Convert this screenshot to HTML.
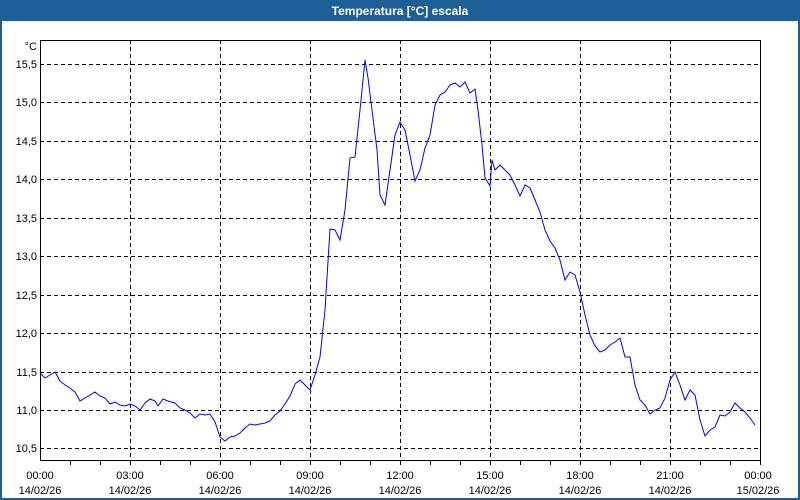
<!DOCTYPE html>
<html><head><meta charset="utf-8"><style>
html,body{margin:0;padding:0;background:#fff;}
svg{display:block;font-family:"Liberation Sans","DejaVu Sans",sans-serif;}
</style></head><body>
<svg width="800" height="500" viewBox="0 0 800 500" xmlns="http://www.w3.org/2000/svg">
<rect x="0" y="0" width="800" height="500" fill="#1e5f96"/>
<rect x="2" y="21" width="796" height="477" fill="#ffffff"/>
<text x="400" y="15" text-anchor="middle" fill="#fff" font-size="12" font-weight="bold">Temperatura [°C] escala</text>
<g stroke="#000" stroke-width="1" stroke-dasharray="4,3" fill="none">
<path d="M40 64.5H760M40 102.5H760M40 141.5H760M40 179.5H760M40 218.5H760M40 256.5H760M40 295.5H760M40 333.5H760M40 372.5H760M40 410.5H760M40 448.5H760"/>
<path d="M130.5 40V460M220.5 40V460M310.5 40V460M400.5 40V460M490.5 40V460M580.5 40V460M670.5 40V460"/>
</g>
<rect x="40.5" y="40.5" width="720" height="420" fill="none" stroke="#000"/>
<g stroke="#000"><path d="M70.5 460V465M100.5 460V465M130.5 460V465M160.5 460V465M190.5 460V465M220.5 460V465M250.5 460V465M280.5 460V465M310.5 460V465M340.5 460V465M370.5 460V465M400.5 460V465M430.5 460V465M460.5 460V465M490.5 460V465M520.5 460V465M550.5 460V465M580.5 460V465M610.5 460V465M640.5 460V465M670.5 460V465M700.5 460V465M730.5 460V465M760.5 460V465"/></g>
<g font-size="11" fill="#000" text-anchor="end">
<text x="37" y="50">°C</text>
<text x="37" y="68">15,5</text><text x="37" y="106">15,0</text><text x="37" y="145">14,5</text>
<text x="37" y="183">14,0</text><text x="37" y="222">13,5</text><text x="37" y="260">13,0</text>
<text x="37" y="299">12,5</text><text x="37" y="337">12,0</text><text x="37" y="376">11,5</text>
<text x="37" y="414">11,0</text><text x="37" y="452">10,5</text>
</g>
<g font-size="11" fill="#000" text-anchor="middle">
<text x="40" y="479">00:00</text><text x="40" y="494">14/02/26</text>
<text x="130" y="479">03:00</text><text x="130" y="494">14/02/26</text>
<text x="220" y="479">06:00</text><text x="220" y="494">14/02/26</text>
<text x="310" y="479">09:00</text><text x="310" y="494">14/02/26</text>
<text x="400" y="479">12:00</text><text x="400" y="494">14/02/26</text>
<text x="490" y="479">15:00</text><text x="490" y="494">14/02/26</text>
<text x="580" y="479">18:00</text><text x="580" y="494">14/02/26</text>
<text x="670" y="479">21:00</text><text x="670" y="494">14/02/26</text>
<text x="758" y="479">00:00</text><text x="758" y="494">15/02/26</text>
</g>
<polyline fill="none" stroke="#0000ff" stroke-width="1" points="40,373 45,378 50,375 55,372 60,381 65,385 70,388 75,392 80,401 85,398 90,395 95,392 100,396 105,398 110,404 115,402 120,405 125,406 130,404 135,406 140,410 145,403 150,399 155,401 158,406 163,399 168,401 175,403 180,408 185,410 190,413 195,418 200,414 205,415 210,414 215,422 220,437 225,441 230,437 235,436 240,433 245,428 250,424 255,425 260,424 265,423 270,421 275,415 280,411 285,404 290,396 295,384 300,380 305,385 310,390 315,375 320,357 325,310 330,229 335,230 340,240 345,210 350,158 355,157 360,110 365,60 368,78 372,110 377,150 380,195 385,205 390,170 395,135 400,122 405,130 410,155 415,181 420,170 425,148 430,135 435,105 440,95 445,92 450,85 455,83 460,87 465,82 470,93 475,89 478,110 482,145 485,178 490,186 492,160 495,170 500,165 505,170 510,175 515,185 520,196 525,185 530,188 535,200 540,212 545,230 550,241 555,248 560,260 565,280 570,272 575,275 580,292 585,315 590,335 595,346 600,352 605,350 610,345 615,342 620,338 625,357 630,357 635,385 640,400 645,405 650,414 655,410 660,408 665,398 670,380 675,372 680,385 685,400 690,390 695,395 700,420 705,436 710,430 715,427 720,415 725,416 730,412 735,403 740,408 745,412 750,418 755,425"/>
</svg>
</body></html>
